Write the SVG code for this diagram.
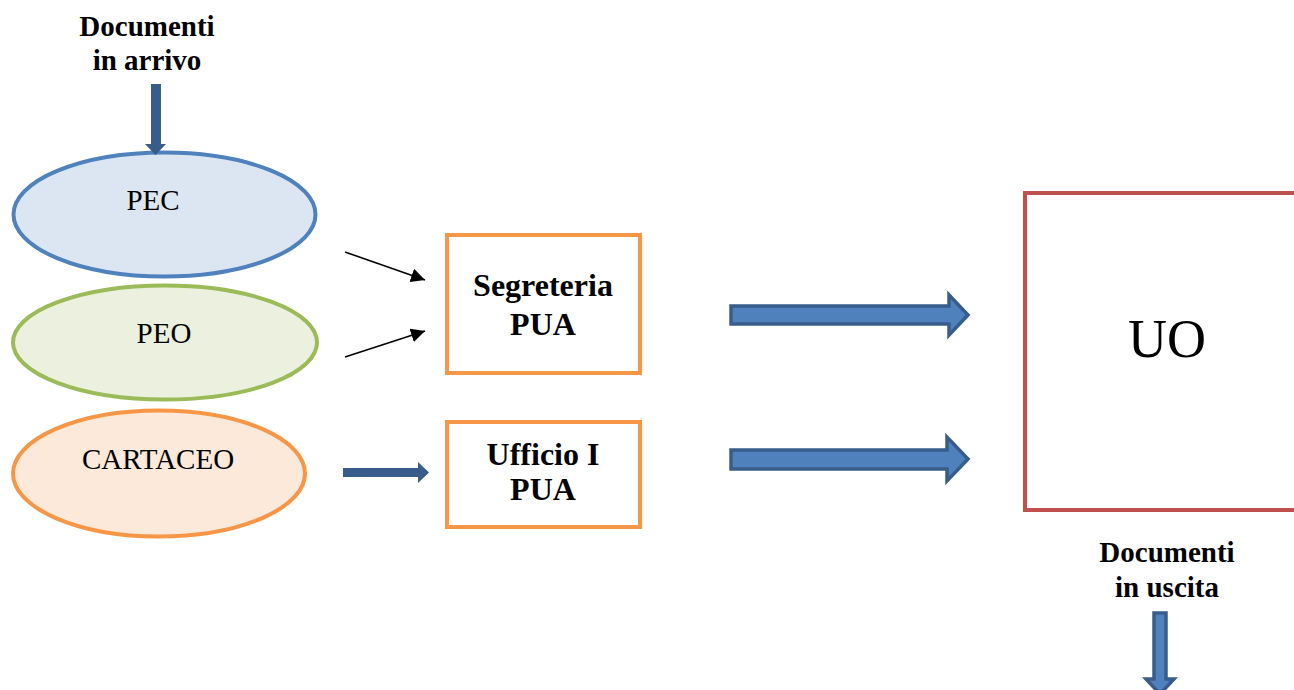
<svg xmlns="http://www.w3.org/2000/svg" width="1294" height="690" viewBox="0 0 1294 690">
<style>
.lbl{font-family:"Liberation Serif","Times New Roman",serif;fill:#000;text-anchor:middle}
.b{font-weight:bold;font-size:29px}
.bb{font-weight:bold;font-size:32px}
.r{font-size:29px}
.box{fill:#fff;stroke:#f79646;stroke-width:4}
.blk{fill:#4f81bd;stroke:#385d8a;stroke-width:3.5;stroke-linejoin:miter}
</style>
<defs>
<marker id="ah" viewBox="0 0 10 10" refX="10" refY="5" markerWidth="14" markerHeight="14" markerUnits="userSpaceOnUse" orient="auto">
<path d="M0,0 L10,5 L0,10 z" fill="#000"/>
</marker>
</defs>
<rect width="1294" height="690" fill="#fff"/>
<g id="in-label">
<text class="lbl b" x="147" y="36">Documenti</text>
<text class="lbl b" x="147" y="70">in arrivo</text>
</g>
<g id="pec">
<ellipse cx="164.5" cy="214.5" rx="151" ry="62" fill="#dce6f2" stroke="#4f81bd" stroke-width="4"/>
<text class="lbl r" x="153" y="210">PEC</text>
</g>
<g id="peo">
<ellipse cx="165" cy="342.5" rx="152" ry="57" fill="#ebf1de" stroke="#9bbb59" stroke-width="4"/>
<text class="lbl r" x="164" y="343">PEO</text>
</g>
<g id="cartaceo">
<ellipse cx="159" cy="473.5" rx="146" ry="63" fill="#fde9d9" stroke="#f79646" stroke-width="4"/>
<text class="lbl r" x="158" y="469">CARTACEO</text>
</g>
<g id="segreteria">
<rect class="box" x="447" y="235" width="193" height="138"/>
<text class="lbl bb" x="543" y="296">Segreteria</text>
<text class="lbl bb" x="543" y="335">PUA</text>
</g>
<g id="ufficio">
<rect class="box" x="447" y="422" width="193" height="105"/>
<text class="lbl bb" x="543" y="465">Ufficio I</text>
<text class="lbl bb" x="543" y="500">PUA</text>
</g>
<g id="uo">
<rect x="1025" y="193" width="290" height="317" fill="#fff" stroke="#c0504d" stroke-width="4"/>
<text class="lbl" x="1167" y="357" font-size="54">UO</text>
</g>
<g id="out-label">
<text class="lbl b" x="1167" y="562">Documenti</text>
<text class="lbl b" x="1167" y="597">in uscita</text>
</g>
<g id="connectors">
<path d="M151,84 H161 V144 H166 L155.5,155 L145,144 H151 Z" fill="#385d8a"/>
<line x1="345" y1="252" x2="425" y2="280" stroke="#000" stroke-width="1.6" marker-end="url(#ah)"/>
<line x1="345" y1="357" x2="425" y2="331" stroke="#000" stroke-width="1.6" marker-end="url(#ah)"/>
<path d="M343,468 H418 V462 L429,472.5 L418,483 V477 H343 Z" fill="#385d8a"/>
<path class="blk" d="M731,306 H949 V295 L968,315 L949,335 V324 H731 Z"/>
<path class="blk" d="M731,450 H947 V437 L968,459 L947,481 V469 H731 Z"/>
<path class="blk" d="M1154,613 H1166 V679 H1174 L1160,694 L1146,679 H1154 Z"/>
</g>
</svg>
